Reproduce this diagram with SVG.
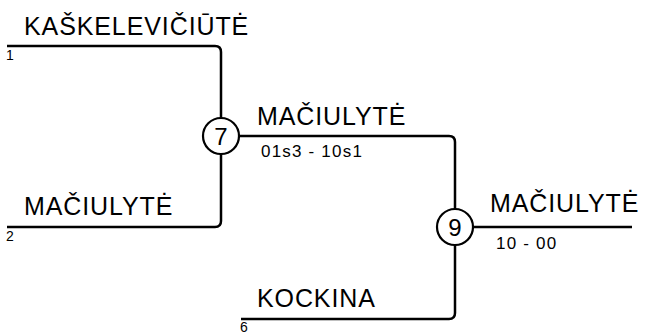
<svg xmlns="http://www.w3.org/2000/svg" width="645" height="333" viewBox="0 0 645 333">
<style>
.ln{fill:none;stroke:#000;stroke-width:2.5;stroke-linecap:butt}
.nd{fill:#fff;stroke:#000;stroke-width:2.2}
text{font-family:"Liberation Sans",Arial,sans-serif;fill:#000}
.nm{font-size:25px;letter-spacing:0.9px}
.sd{font-size:14px}
.sc{font-size:17px;letter-spacing:1.2px}
.num{font-size:24px;text-anchor:middle}
</style>
<rect width="645" height="333" fill="#fff"/>
<g id="connectors">
<path class="ln" d="M7,46 H215 Q221,46 221,52 V118"/>
<path class="ln" d="M7,227 H215 Q221,227 221,221 V154"/>
<path class="ln" d="M239,136 H449 Q455,136 455,142 V209"/>
<path class="ln" d="M241,319 H449 Q455,319 455,313 V245"/>
<path class="ln" d="M473,227 H632"/>
</g>
<g id="player1">
<text class="nm" x="24" y="35">KAŠKELEVIČIŪTĖ</text>
<text class="sd" x="6" y="60">1</text>
</g>
<g id="player2">
<text class="nm" x="24" y="215">MAČIULYTĖ</text>
<text class="sd" x="6" y="241">2</text>
</g>
<g id="player6">
<text class="nm" x="257" y="307">KOCKINA</text>
<text class="sd" x="240" y="332">6</text>
</g>
<g id="node7">
<circle class="nd" cx="221" cy="136" r="18"/>
<text class="num" x="221" y="144.5">7</text>
<text class="nm" x="257" y="125">MAČIULYTĖ</text>
<text class="sc" x="261" y="157">01s3 - 10s1</text>
</g>
<g id="node9">
<circle class="nd" cx="455" cy="227" r="18"/>
<text class="num" x="455" y="235.5">9</text>
<text class="nm" x="490" y="212">MAČIULYTĖ</text>
<text class="sc" x="496" y="249">10 - 00</text>
</g>
</svg>
